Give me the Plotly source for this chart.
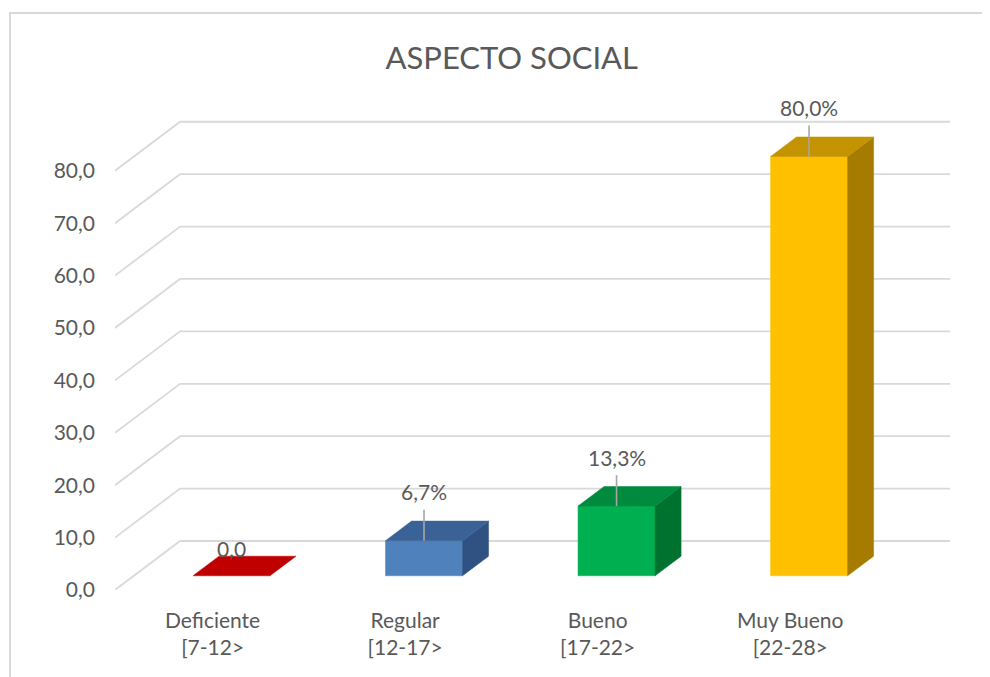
import plotly.graph_objects as go

# ---- data ----
categories = ["Deficiente<br>[7-12>", "Regular<br>[12-17>", "Bueno<br>[17-22>", "Muy Bueno<br>[22-28>"]
values = [0.0, 6.7, 13.3, 80.0]
value_labels = ["0,0", "6,7%", "13,3%", "80,0%"]
y_ticks = [0, 10, 20, 30, 40, 50, 60, 70, 80]
title_text = "ASPECTO SOCIAL"

# ---- styles ----
front_colors = ["#C00000", "#4F81BD", "#00B050", "#FFC000"]
top_colors = ["#C00000", "#3B6296", "#008A3E", "#C49400"]
side_colors = ["#C00000", "#2F5283", "#00722F", "#A67C00"]
grid_color = "#D9D9D9"
text_color = "#595959"
FONT = "Lato"

# 3D projection parameters (in axis units)
DX = 0.338     # x shift of full depth (category units)
DY = 9.35      # y shift of full depth (value units)
D1, D2 = 0.29, 0.69   # front / back depth of bars
HALF_W = 0.2
X_LEFT, X_RIGHT = -0.507, 3.83
Y_TOP = 93.5
LABEL_GAP = 9.3    # label centre above bar front-top edge (value units)

fig = go.Figure()

# back-wall gridlines: diagonal from front plane to back wall, then horizontal
gx, gy = [], []
for v in y_ticks:
    gx += [X_LEFT, X_LEFT + DX, X_RIGHT, None]
    gy += [v, v + DY, v + DY, None]
fig.add_trace(go.Scatter(x=gx, y=gy, mode="lines", line=dict(color=grid_color, width=1.8),
                         hoverinfo="skip", showlegend=False))

def poly(xs, ys, color):
    fig.add_trace(go.Scatter(x=xs + [xs[0]], y=ys + [ys[0]], mode="lines", fill="toself",
                             fillcolor=color, line=dict(color=color, width=0.5),
                             hoverinfo="skip", showlegend=False))

for i, v in enumerate(values):
    xl = i - HALF_W + D1 * DX
    xr = i + HALF_W + D1 * DX
    yb = D1 * DY
    yt = v + D1 * DY
    ddx = (D2 - D1) * DX
    ddy = (D2 - D1) * DY
    if v > 0:
        poly([xl, xr, xr, xl], [yb, yb, yt, yt], front_colors[i])
        poly([xr, xr + ddx, xr + ddx, xr], [yb, yb + ddy, yt + ddy, yt], side_colors[i])
    poly([xl, xr, xr + ddx, xl + ddx], [yt, yt, yt + ddy, yt + ddy], top_colors[i])

# data labels with leader lines
for i, v in enumerate(values):
    fx = i + D1 * DX          # front face centre x
    fy = v + D1 * DY          # front face top y
    if v > 0:
        lab_y = fy + LABEL_GAP
        fig.add_trace(go.Scatter(x=[fx, fx], y=[fy, lab_y - 3.4], mode="lines",
                                 line=dict(color="#A6A6A6", width=1.6),
                                 hoverinfo="skip", showlegend=False))
        fig.add_annotation(x=fx, y=lab_y, text=value_labels[i], showarrow=False,
                           yanchor="middle", font=dict(family=FONT, size=21, color=text_color))
    else:
        fig.add_annotation(x=fx, y=fy + 5.3, text=value_labels[i], showarrow=False,
                           yanchor="middle", font=dict(family=FONT, size=21, color=text_color))

fig.update_layout(
    width=982, height=669, autosize=False,
    paper_bgcolor="white", plot_bgcolor="white",
    margin=dict(l=107, r=40, t=92, b=87),
    separators=",.",
    title=dict(text=title_text, x=0.513, xanchor="center", y=0.925, yanchor="middle",
               font=dict(family=FONT, size=31, color=text_color)),
    xaxis=dict(range=[X_LEFT, X_RIGHT], tickvals=list(range(len(categories))), ticktext=categories,
               showgrid=False, zeroline=False, showline=False, ticks="",
               tickfont=dict(family=FONT, size=21, color=text_color), ticklabelstandoff=16),
    yaxis=dict(range=[0, Y_TOP], tickvals=y_ticks, tickformat=".1f",
               showgrid=False, zeroline=False, showline=False, ticks="",
               tickfont=dict(family=FONT, size=21, color=text_color), ticklabelstandoff=19),
    shapes=[dict(type="rect", xref="paper", yref="paper", x0=-0.1257, x1=1.2, y0=-0.3, y1=1.1776,
                 line=dict(color="#D9D9D9", width=2), fillcolor="rgba(0,0,0,0)", layer="below")],
)

fig.write_html("out.html")
